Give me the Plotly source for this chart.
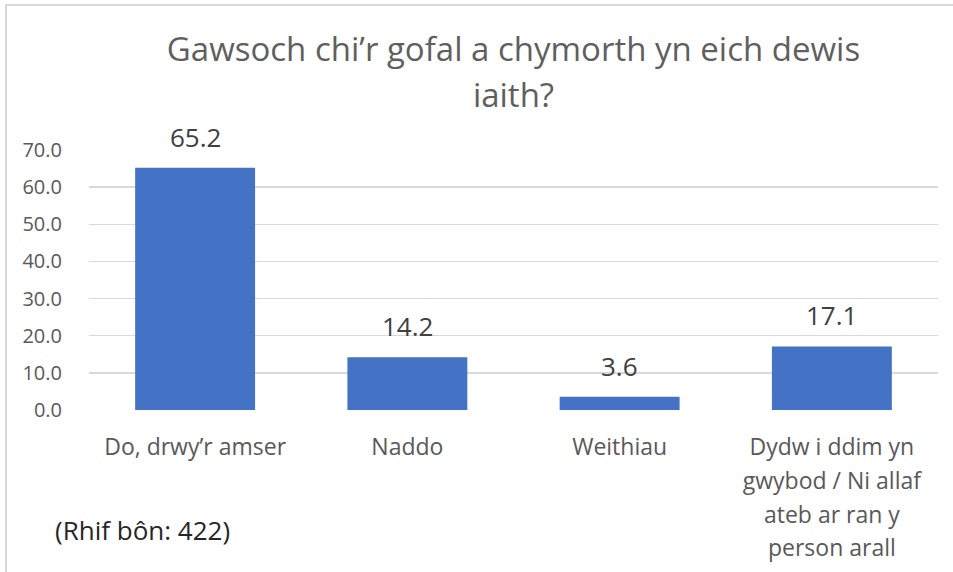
import plotly.graph_objects as go

categories = ["Do, drwy’r amser", "Naddo", "Weithiau",
              "Dydw i ddim yn<br>gwybod / Ni allaf<br>ateb ar ran y<br>person arall"]
values = [65.2, 14.2, 3.6, 17.1]
y_ticks = [0, 10, 20, 30, 40, 50, 60, 70]
title_lines = ["Gawsoch chi’r gofal a chymorth yn eich dewis", "iaith?"]
note = "(Rhif bôn: 422)"

FONT = "Open Sans"
GREY = "#595959"
BAR = "#4472C4"

def small(txt, size):
    return "<br>".join(f'<span style="font-size:{size}px">{p}</span>' for p in txt.split("<br>"))

cat_text = [small(c, 23) for c in categories]

fig = go.Figure()
fig.add_trace(go.Bar(
    x=categories, y=values, marker=dict(color=BAR, line=dict(width=0)),
    width=0.565, hoverinfo="skip",
))

for c, v in zip(categories, values):
    fig.add_annotation(x=c, y=v, xref="x", yref="y", text=f"{v:.1f}",
                       showarrow=False, yanchor="bottom", yshift=11,
                       font=dict(family=FONT, size=26, color="#404040"))

fig.add_annotation(xref="paper", yref="paper", x=(53 - 89) / 849, y=(410 - 530) / 260,
                   xanchor="left", yanchor="middle", text=note, showarrow=False,
                   font=dict(family=FONT, size=26, color="#262626"))

# chart border (left/top visible, right/bottom run off the image)
fig.add_shape(type="rect", xref="paper", yref="paper",
              x0=(6 - 89) / 849, x1=(970 - 89) / 849,
              y0=(410 - 590) / 260, y1=(410 - 5) / 260,
              line=dict(color="#d9d9d9", width=2), layer="below")

fig.update_layout(
    width=953, height=572,
    margin=dict(l=89, r=15, t=150, b=162, autoexpand=False),
    paper_bgcolor="white", plot_bgcolor="white",
    title=dict(text=small("<br>".join(title_lines), 33), x=0.5, xref="paper",
               xanchor="center", y=0.893, yanchor="middle",
               font=dict(family=FONT, size=35.5, color="#5f5f5f")),
    showlegend=False,
    bargap=0.435,
)
fig.update_xaxes(tickvals=categories, ticktext=cat_text, showgrid=False,
                 showline=False, ticks="", tickangle=0, automargin=False,
                 ticklabelstandoff=18,
                 tickfont=dict(family=FONT, size=26, color=GREY))
fig.update_yaxes(range=[0, 70], tickvals=y_ticks, tickformat=".1f",
                 showgrid=True, gridcolor="#d9d9d9", gridwidth=1.3,
                 zeroline=False, showline=False, ticks="", automargin=False,
                 ticklabelstandoff=26,
                 tickfont=dict(family=FONT, size=20, color=GREY))

fig.write_html("out.html", config={"displayModeBar": False, "staticPlot": True},
               post_script="document.body.style.margin='0';document.body.style.overflow='hidden';")
